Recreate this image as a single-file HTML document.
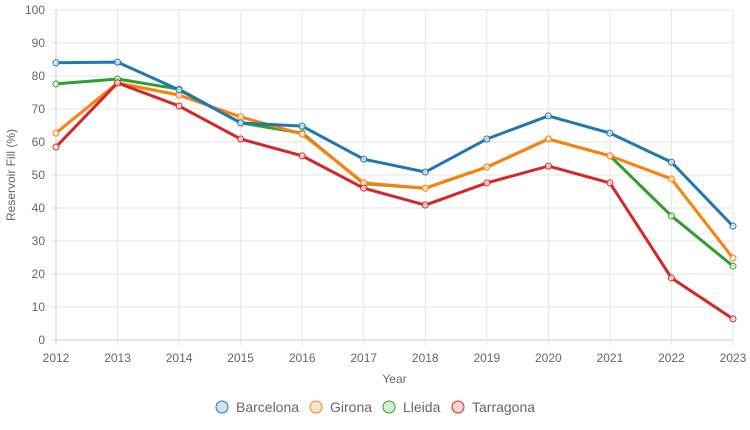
<!DOCTYPE html>
<html><head><meta charset="utf-8"><style>
body{margin:0;background:#fff;width:750px;height:425px;overflow:hidden;font-family:"Liberation Sans",Arial,sans-serif}
svg text{font-family:"Liberation Sans",Arial,sans-serif;fill:#666}
</style></head><body>
<svg id="chart" width="750" height="425" xmlns="http://www.w3.org/2000/svg"></svg>
<script>
const years=[2012,2013,2014,2015,2016,2017,2018,2019,2020,2021,2022,2023];
const yTicks=[0,10,20,30,40,50,60,70,80,90,100];
const barcelona=[84,84.2,75.8,65.8,64.8,54.8,50.9,60.9,67.9,62.7,53.9,34.5];
const girona=[62.7,77.9,74.2,67.6,62.4,47.6,46,52.4,60.9,55.8,48.8,24.8];
const lleida=[77.6,79.1,76,65.8,62.7,47.4,46,52.4,60.9,55.8,37.6,22.4];
const tarragona=[58.5,77.9,70.9,60.9,55.8,46,40.9,47.6,52.7,47.6,18.8,6.4];
const seriesNames=["Barcelona","Girona","Lleida","Tarragona"];
const seriesColors=["#1f77b4","#ff7f0e","#2ca02c","#d62728"];
const seriesData=[barcelona,girona,lleida,tarragona];
const NS="http://www.w3.org/2000/svg";
const svg=document.getElementById('chart');
const L=56,R=733,T=10,B=340;
const x=i=>L+(R-L)*i/(years.length-1);
const y=v=>B-(B-T)*v/100;
function el(t,a,p){const e=document.createElementNS(NS,t);for(const k in a)e.setAttribute(k,a[k]);(p||svg).appendChild(e);return e;}
const grid=el('g',{});


yTicks.forEach(v=>{
  el('line',{x1:L-5,x2:R,y1:y(v),y2:y(v),stroke:v===0?'#ccc':'#e6e6e6'},grid);
  const t=el('text',{x:L-11,y:y(v)+4,'text-anchor':'end','font-size':12});
  t.textContent=v;
  
  
});
years.forEach((yr,i)=>{
  el('line',{x1:x(i),x2:x(i),y1:T,y2:B+5,stroke:i===0?'#ccc':'#e6e6e6'},grid);
  const t=el('text',{x:x(i),y:B+22,'text-anchor':'middle','font-size':12});
  t.textContent=yr;
  
  
});
const yt=el('text',{x:0,y:0,'text-anchor':'middle','font-size':12,transform:`translate(15,${(T+B)/2}) rotate(-90)`});
yt.textContent='Reservoir Fill (%)';


const xt=el('text',{x:(L+R)/2,y:383,'text-anchor':'middle','font-size':12});
xt.textContent='Year';


[2,1,0,3].forEach(s=>{
  const g=el('g',{});
  
  
  const d=seriesData[s].map((v,i)=>(i?'L':'M')+x(i)+','+y(v)).join('');
  el('path',{d:d,fill:'none',stroke:seriesColors[s],'stroke-width':3,'stroke-linejoin':'round'},g);
  seriesData[s].forEach((v,i)=>{
    const c=el('circle',{cx:x(i),cy:y(v),r:3,fill:'rgba(255,255,255,0.7)',stroke:seriesColors[s],'stroke-width':1});
    g.appendChild(c);
    
    
  });
});
const legX=[222,316,389,458];
seriesNames.forEach((n,s)=>{
  const g=el('g',{});
  
  
  el('circle',{cx:legX[s],cy:407,r:6,fill:seriesColors[s],'fill-opacity':0.2,stroke:seriesColors[s],'stroke-width':1},g);
  const t=el('text',{x:legX[s]+14,y:412,'font-size':14},g);
  t.textContent=n;
});
</script>
</body></html>
